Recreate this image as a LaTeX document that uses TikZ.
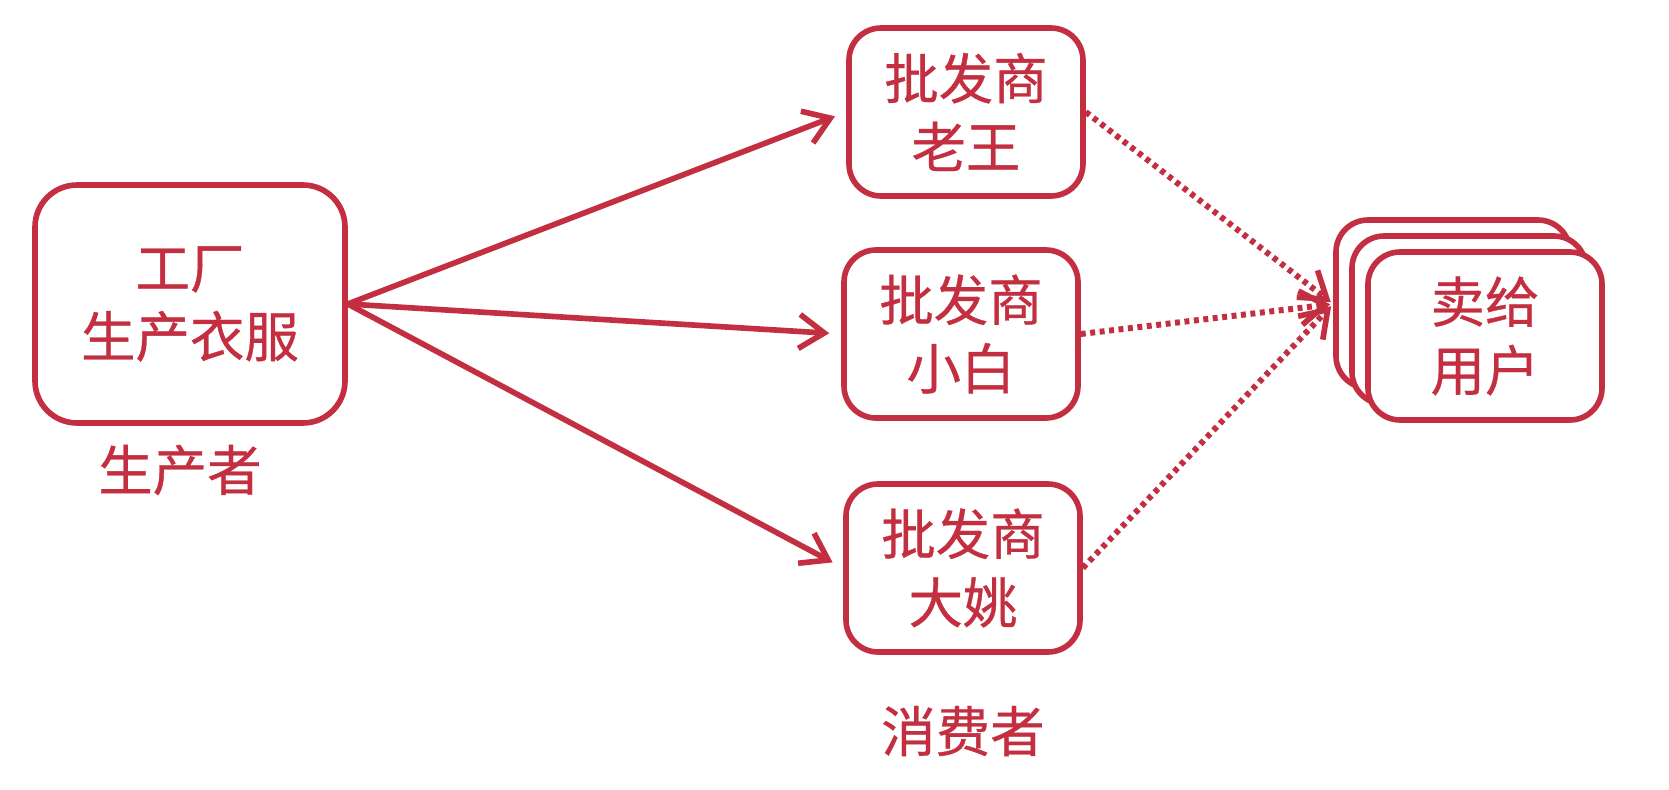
\documentclass[tikz,border=0pt]{standalone}
\usepackage{fontspec}
\setmainfont{Noto Sans CJK SC}[FakeBold=0.6,AutoFakeBold=0.6]
\usepackage{tikz}
\usetikzlibrary{arrows.meta,positioning}
\definecolor{ShopRed}{HTML}{C32F40}
\tikzset{
  sbox/.style={draw=ShopRed,rounded corners=3.2mm,fill=white,line width=1.6pt,
    align=center,text=ShopRed,inner sep=0pt,font=\fontsize{15.5}{19.5}\selectfont\bfseries},
  dealer/.style={sbox,minimum width=23.4mm,minimum height=16.8mm},
  buyer/.style={dealer},
  slabel/.style={text=ShopRed,font=\fontsize{15.5}{19.5}\selectfont\bfseries},
  sarrow/.style={-{Straight Barb[length=2.5mm,width=3.4mm,line width=1.6pt]},
    line width=1.6pt,ShopRed,shorten >=1.2mm},
  sdotted/.style={sarrow,line width=1.7pt,dash pattern=on 1.4pt off 1.3pt,shorten >=0.3mm}
}

\begin{document}
\begin{tikzpicture}[x=0.1mm,y=-0.1mm]
  \path[use as bounding box,fill=white] (0,0) rectangle (1669,790);

  % producer side
  \node[sbox,rounded corners=4.2mm,minimum width=31mm,minimum height=23.8mm]
    (factory) at (190,304) {工厂\\生产衣服};
  \node[slabel] (producer) at (180,470) {生产者};

  % wholesalers
  \node[dealer] (laowang) at (966,112) {批发商\\老王};
  \node[dealer] (xiaobai) at (961,334) {批发商\\小白};
  \node[dealer] (dayao) at (963,568) {批发商\\大姚};
  \node[slabel] (consumer) at (963,731) {消费者};

  % stacked customers
  \node[buyer] (users3) at (1453,304) {};
  \node[buyer] (users2) at (1469,320) {};
  \node[buyer] (users) at (1485,336) {卖给\\用户};

  \draw[sarrow] (factory.east) -- (laowang.west);
  \draw[sarrow] (factory.east) -- (xiaobai.west);
  \draw[sarrow] (factory.east) -- (dayao.west);

  \draw[sdotted] (laowang.east) -- (users3.west);
  \draw[sdotted] (xiaobai.east) -- (users3.west);
  \draw[sdotted] (dayao.east) -- (users3.west);
\end{tikzpicture}
\end{document}
